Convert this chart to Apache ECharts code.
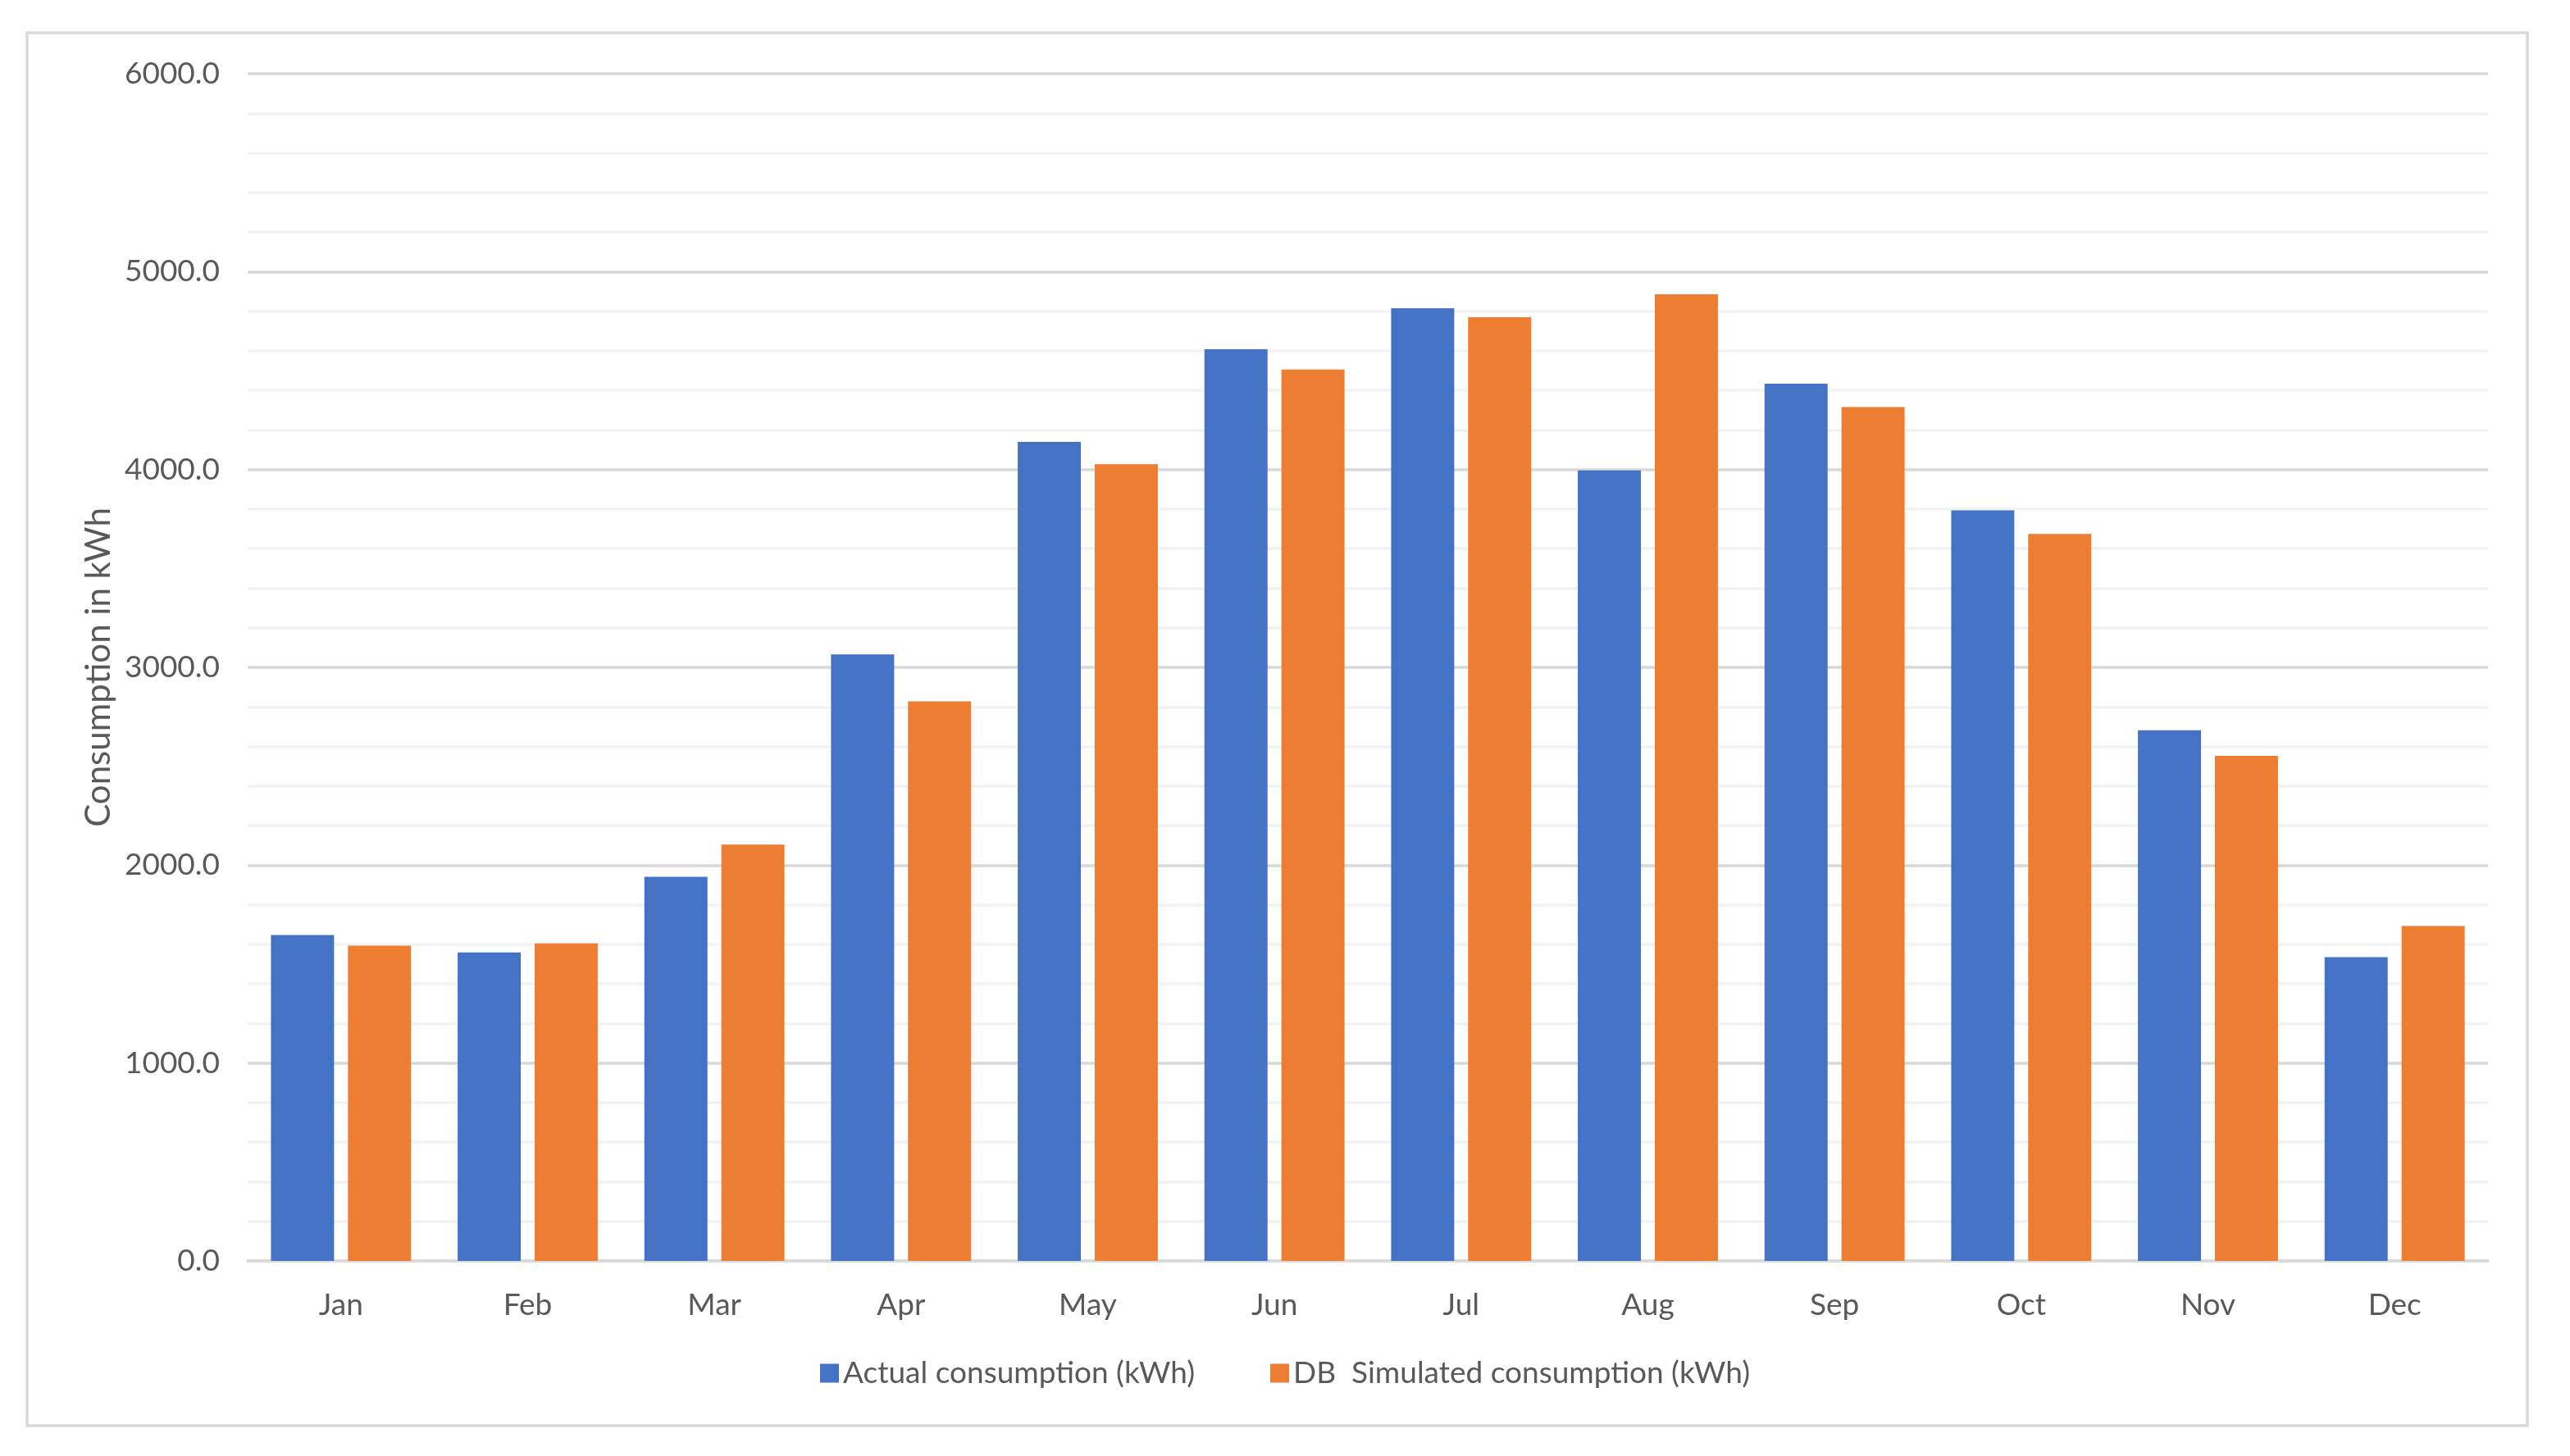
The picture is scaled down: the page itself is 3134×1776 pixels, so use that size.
<!DOCTYPE html>
<html>
<head>
<meta charset="utf-8">
<script src="https://cdn.jsdelivr.net/npm/echarts@6/dist/echarts.min.js"></script>
<style>
html, body { margin: 0; padding: 0; background: #ffffff; }
#chart { width: 3134px; height: 1776px; }
</style>
</head>
<body>
<div id="chart"></div>
<script>
const months = ['Jan', 'Feb', 'Mar', 'Apr', 'May', 'Jun', 'Jul', 'Aug', 'Sep', 'Oct', 'Nov', 'Dec'];
const actualConsumption = [1647, 1559, 1941, 3065, 4139, 4608, 4815, 3995, 4434, 3794, 2682, 1535];
const simulatedConsumption = [1593, 1605, 2104, 2828, 4027, 4505, 4769, 4885, 4316, 3674, 2553, 1693];
const seriesNames = ['Actual consumption (kWh)', 'DB  Simulated consumption (kWh)'];
const yAxisTitle = 'Consumption in kWh';

const FONT = 'Lato, "Open Sans", "Noto Sans", sans-serif';
const TEXT = '#595959';

const chart = echarts.init(document.getElementById('chart'), null, { renderer: 'canvas' });
chart.setOption({
  backgroundColor: '#ffffff',
  animation: false,
  textStyle: { fontFamily: FONT, color: TEXT },
  graphic: [{
    type: 'rect',
    shape: { x: 33, y: 40, width: 3049, height: 1699 },
    style: { fill: 'none', stroke: '#D9D9D9', lineWidth: 3.5 },
    silent: true,
    z: -1
  }],
  grid: { left: 302, right: 100, top: 90, bottom: 238, containLabel: false },
  legend: {
    data: seriesNames,
    left: 'center',
    top: 1647,
    icon: 'rect',
    itemWidth: 23,
    itemHeight: 23,
    itemGap: 92,
    textStyle: { fontFamily: FONT, fontSize: 37, color: TEXT, lineHeight: 46, padding: [0, 0, 0, 0] }
  },
  xAxis: {
    type: 'category',
    data: months,
    axisTick: { show: false },
    axisLine: { lineStyle: { color: '#D9D9D9', width: 3.5 } },
    axisLabel: { fontFamily: FONT, fontSize: 37, color: TEXT, margin: 36 },
    splitLine: { show: false }
  },
  yAxis: {
    type: 'value',
    min: 0,
    max: 6000,
    interval: 1000,
    name: yAxisTitle,
    nameLocation: 'middle',
    nameRotate: 90,
    nameGap: 182,
    nameTextStyle: { fontFamily: FONT, fontSize: 42, color: TEXT, verticalAlign: 'middle' },
    axisLine: { show: false },
    axisTick: { show: false },
    axisLabel: {
      fontFamily: FONT, fontSize: 37, color: TEXT, margin: 34,
      formatter: function (v) { return v.toFixed(1); }
    },
    splitLine: { show: true, lineStyle: { color: '#D9D9D9', width: 3.5 } },
    minorTick: { show: false, splitNumber: 5 },
    minorSplitLine: { show: true, lineStyle: { color: '#F2F2F2', width: 3.5 } }
  },
  series: [
    {
      name: seriesNames[0],
      type: 'bar',
      data: actualConsumption,
      barWidth: '33.8%',
      barGap: '22%',
      itemStyle: { color: '#4472C4' }
    },
    {
      name: seriesNames[1],
      type: 'bar',
      data: simulatedConsumption,
      barWidth: '33.8%',
      barGap: '22%',
      itemStyle: { color: '#ED7D31' }
    }
  ]
});
</script>
</body>
</html>
